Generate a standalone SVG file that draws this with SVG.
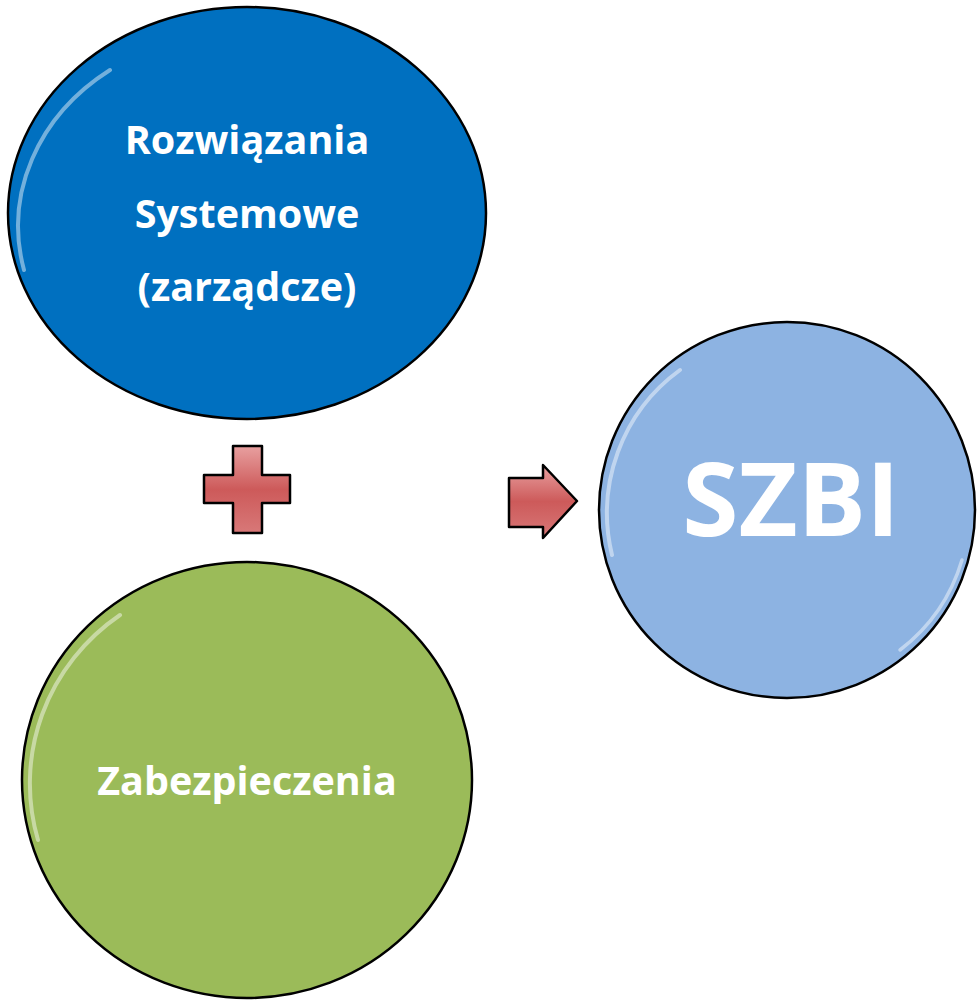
<svg xmlns="http://www.w3.org/2000/svg" width="978" height="1000" viewBox="0 0 978 1000">
<style>
.lbl{font-family:"Open Sans","Liberation Sans",sans-serif;font-weight:bold;fill:#fff;text-anchor:middle}
.node{stroke:#000;stroke-width:2.5}
.hl{fill:none;stroke:#fff;stroke-opacity:0.45;stroke-linecap:round}
.sym{fill:url(#redg);stroke:#000;stroke-width:2.5;stroke-linejoin:round}
</style>
<defs>
<linearGradient id="redg" x1="0" y1="0" x2="0" y2="1">
<stop offset="0" stop-color="#e8a0a0"/>
<stop offset="0.5" stop-color="#cd5a5a"/>
<stop offset="1" stop-color="#d87878"/>
</linearGradient>
</defs>
<g id="node-rozwiazania">
<ellipse class="node" cx="247" cy="213" rx="239" ry="206" fill="#0070c0"/>
<path class="hl" stroke-width="4" d="M24,270 A226,194 0 0 1 110,70"/>
<text class="lbl" x="247" y="154" font-size="39.5">Rozwiązania</text>
<text class="lbl" x="247" y="228" font-size="39.5">Systemowe</text>
<text class="lbl" x="247" y="301" font-size="39.5">(zarządcze)</text>
</g>
<g id="node-zabezpieczenia">
<ellipse class="node" cx="247" cy="780" rx="225" ry="218" fill="#9bbb59"/>
<path class="hl" stroke-width="4" d="M38,840 A212,206 0 0 1 120,615"/>
<text class="lbl" x="247" y="795" font-size="39.5">Zabezpieczenia</text>
</g>
<g id="node-szbi">
<circle class="node" cx="787" cy="510" r="188" fill="#8db3e2"/>
<path class="hl" stroke-width="4" d="M612,555 A177,177 0 0 1 680,370"/>
<path class="hl" stroke-width="3.5" d="M962,560 A177,177 0 0 1 900,650"/>
<text class="lbl" x="791" y="536" font-size="102">SZBI</text>
</g>
<g id="connectors">
<path class="sym" d="M233,446 H262 V475 H290 V503 H262 V533 H233 V503 H204 V475 H233 Z"/>
<path class="sym" d="M509,478 H543 V465 L577,501 L543,538 V527 H509 Z"/>
</g>
</svg>
